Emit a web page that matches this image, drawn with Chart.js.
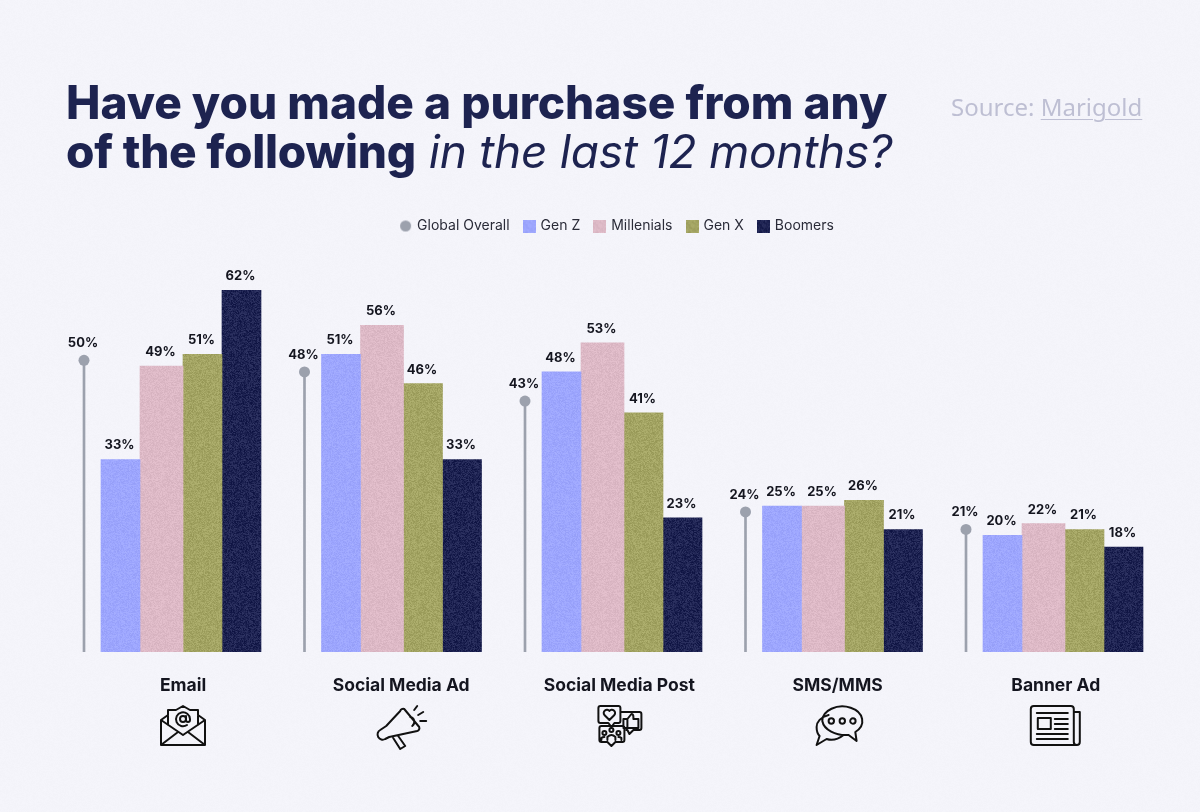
<!DOCTYPE html>
<html><head><meta charset="utf-8">
<script src="https://cdn.jsdelivr.net/npm/chart.js@4"></script>
<style>
html,body{margin:0;padding:0;background:#F4F4FA;width:1200px;height:812px;overflow:hidden}
#wrap{position:relative;width:1200px;height:812px}
canvas{position:absolute;left:0;top:0}
.t{position:absolute;left:66px;color:#1D2350;font-family:Inter,Lato,sans-serif;font-size:46px;white-space:nowrap;line-height:50px}
.t b{font-weight:800}
.t i{font-weight:400;font-style:italic;letter-spacing:-.28px}
#src{position:absolute;left:951px;top:90px;font:400 24px "Noto Sans",sans-serif;color:#BEBFD3;white-space:nowrap}
#src u{text-underline-offset:3px;text-decoration-thickness:1px}
</style></head><body>
<div id="wrap">
<canvas id="c" width="1200" height="812"></canvas>
<div class="t" style="top:77px"><b>Have you made a purchase from any</b></div>
<div class="t" style="top:126px"><b style="letter-spacing:-.25px">of the following</b> <i>in the last 12 months?</i></div>
<div id="src">Source: <u>Marigold</u></div>
</div>
<script>
const categories=["Email","Social Media Ad","Social Media Post","SMS/MMS","Banner Ad"];
const seriesNames=["Global Overall","Gen Z","Millenials","Gen X","Boomers"];
const globalOverall=[50,48,43,24,21];
const genZ=[33,51,48,25,20];
const millenials=[49,56,53,25,22];
const genX=[51,46,41,26,21];
const boomers=[62,33,23,21,18];

// texture (visual grain only, never used for values)
function grain(hex,amp){
  const n=128,cv=document.createElement('canvas');cv.width=cv.height=n;
  const g=cv.getContext('2d'),im=g.createImageData(n,n);
  const r=parseInt(hex.slice(1,3),16),gg=parseInt(hex.slice(3,5),16),b=parseInt(hex.slice(5,7),16);
  let s=12345;
  for(let i=0;i<n*n;i++){
    s=(s*1103515245+12345)&0x7fffffff;
    const d=(((s>>8)&255)/255-.5)*amp;
    im.data[i*4]=r+d;im.data[i*4+1]=gg+d;im.data[i*4+2]=b+d;im.data[i*4+3]=255;
  }
  g.putImageData(im,0,0);
  return document.getElementById('c').getContext('2d').createPattern(cv,'repeat');
}
const colGray='#9CA1AD';
const fills=[grain('#9DA6FF',16),grain('#DDB9C6',16),grain('#A3A463',26),grain('#1E2352',34)];
function swatch(draw){const cv=document.createElement('canvas');cv.width=cv.height=13;draw(cv.getContext('2d'));return cv;}
const markers=[
  swatch(g=>{g.fillStyle=colGray;g.beginPath();g.arc(6.5,6.5,5.5,0,7);g.fill();}),
  ...fills.map(f=>swatch(g=>{g.fillStyle=f;g.fillRect(0,0,13,13);}))
];

const PLOT_W=1200,BAND=220.5;
const pts=a=>a.map((y,x)=>({x,y}));
const hiddenX=c=>({type:'linear',display:false,bounds:'data',offset:false,min:(0-c)/BAND,max:(PLOT_W-c)/BAND});
const font="Inter, Lato, sans-serif";

const icons=[
 // email
 "M-22,-6V19H22V-6M-22,-6L-15,-11M22,-6L15,-11M-15,-1V-16H-7L0,-20L7,-16H15V-1M-22,-6L0,9L22,-6M-22,19L-5,6M22,19L5,6"+
 "M3,-7a3,3 0 1 0 -6,0a3,3 0 1 0 6,0M3,-10v4a2,2 0 0 0 4,0v-1a7,7 0 1 0 -3,6",
 // megaphone
 "M-1,-15L-15,0L-21,4a5,5 0 0 0 5,9L-12,11L16,5M-1,-15a3,3 0 0 1 4,-2L18,1a3,3 0 0 1 -2,4M-8,12L-1,23L4,20L-3,10"+
 "M13,-16L16,-20M17,-11L22,-14M19,-5H25M9,-9a5,5 0 0 1 2,9",
 // social post
 "M-21,-18a2,2 0 0 1 2,-2H-1a2,2 0 0 1 2,2V-5a2,2 0 0 1 -2,2H-5L-8,1L-11,-3H-19a2,2 0 0 1 -2,-2Z"+
 "M-10,-6L-15,-11a3,3 0 0 1 5,-4a3,3 0 0 1 5,4Z"+
 "M2,-14H20a2,2 0 0 1 2,2V2a2,2 0 0 1 -2,2H14L10,8L8,4H7M4,-7H8V2H4ZM8,-7L12,-12q2,0 2,3V-7H19V2H8"+
 "M-20,2a2,2 0 0 1 2,-2H3a2,2 0 0 1 2,2V14a2,2 0 0 1 -2,2H-4L-8,20L-12,16H-18a2,2 0 0 1 -2,-2Z"+
 "M-10,4a2,2 0 1 0 4,0a2,2 0 1 0 -4,0M-17,7a2,2 0 1 0 4,0a2,2 0 1 0 -4,0M-3,7a2,2 0 1 0 4,0a2,2 0 1 0 -4,0M-12,14V11q4,-4 8,0V14M-18,14V12q1,-1 3,-1M2,14V12q-1,-1 -3,-1",
 // sms
 "M-15.3,-5a20,14.5 0 1 1 33,11L19,15L11,9a24,16 0 0 1 -26.3,-14Z"+
 "M-9,-11C-17,-9 -21,-4 -21,1C-21,5 -20,8 -18,10L-21,19L-11,13C-5,15 1,13 6,9"+
 "M-9,-5a2.7,2.7 0 1 0 5.4,0a2.7,2.7 0 1 0 -5.4,0M2,-5a2.7,2.7 0 1 0 5.4,0a2.7,2.7 0 1 0 -5.4,0M12.6,-5a2.7,2.7 0 1 0 5.4,0a2.7,2.7 0 1 0 -5.4,0",
 // newspaper
 "M-25,-17a3,3 0 0 1 3,-3H15a3,3 0 0 1 3,3V16a3,3 0 0 0 3,3H-22a3,3 0 0 1 -3,-3ZM18,-14H24V16a3,3 0 0 1 -3,3"+
 "M-19,-13H12M-18,-8H-5V3H-18ZM-1,-7H12M-1,-2H12M-1,3H12M-19,8H12M-19,13H12"
];

const pageGrain=grain('#F4F4FA',3);
const paint={
  id:'paint',
  beforeDraw(ch){const x=ch.ctx;x.save();x.fillStyle=pageGrain;x.fillRect(0,0,1200,812);x.restore();},
  afterLayout(ch){ch.legend.left+=17.5;ch.legend.right+=17.5;},
  afterDraw(ch){
    const x=ch.ctx;x.save();x.textAlign='center';x.textBaseline='middle';x.fillStyle='#14151F';
    x.font="700 13px "+font;
    ch.data.datasets.forEach((d,i)=>{
      if(d.noLabel)return;
      const m=ch.getDatasetMeta(i);
      m.data.forEach((el,j)=>{
        const up=d.type==='line'?17:14;
        x.fillText(d.values[j]+'%',el.x-1,el.y-up);
      });
    });
    x.restore();
    x.save();x.strokeStyle='#111';x.lineWidth=2;x.lineJoin='round';x.lineCap='round';
    const s=ch.scales.xLabels;
    icons.forEach((p,i)=>{x.save();x.translate(s.getPixelForValue(i),726);x.stroke(new Path2D(p));x.restore();});
    x.restore();
  }
};
const bar=(name,vals,fill,w)=>({type:'bar',label:name,values:vals,data:pts(vals),backgroundColor:fill,xAxisID:'x'+name.replace(/ /g,''),grouped:false,barThickness:w,maxBarThickness:w,borderWidth:0});

new Chart(document.getElementById('c'),{
  data:{datasets:[
    {type:'line',label:seriesNames[0],values:globalOverall,data:pts(globalOverall),xAxisID:'xOverall',showLine:false,
     pointRadius:5.5,pointHoverRadius:5.5,pointBackgroundColor:colGray,pointBorderWidth:0,borderColor:colGray},
    {type:'bar',label:'stem',noLabel:true,values:globalOverall,data:pts(globalOverall),xAxisID:'xOverall',grouped:false,backgroundColor:colGray,barThickness:2,maxBarThickness:2},
    bar(seriesNames[1],genZ,fills[0],39),
    bar(seriesNames[2],millenials,fills[1],43),
    bar(seriesNames[3],genX,fills[2],39),
    bar(seriesNames[4],boomers,fills[3],39)
  ]},
  options:{
    responsive:false,animation:false,devicePixelRatio:1,
    layout:{autoPadding:false,padding:{top:204,bottom:100,left:0,right:0}},
    plugins:{
      tooltip:{enabled:false},
      legend:{position:'top',labels:{
        color:'#2A2B38',font:{family:font,size:14,weight:'400'},padding:15,boxWidth:9,boxHeight:13,pointStyleWidth:9,usePointStyle:true,
        generateLabels:()=>seriesNames.map((n,i)=>({text:n,pointStyle:markers[i],fontColor:'#2A2B38',lineWidth:0,strokeStyle:'transparent'}))
      }}
    },
    scales:{
      y:{display:false,min:0,max:70.1,bounds:'data'},
      xLabels:{type:'linear',position:'bottom',bounds:'data',offset:false,min:(0-183)/218.2,max:(1200-183)/218.2,
        grid:{display:false},border:{display:false},
        afterBuildTicks(s){s.ticks=categories.map((c,i)=>({value:i}));},
        afterFit(s){s.height=60;},
        ticks:{stepSize:1,includeBounds:false,autoSkip:false,maxRotation:0,padding:15,color:'#14151F',
          font:{family:font,size:17.5,weight:'700'},callback:v=>categories[v]}},
      xOverall:hiddenX(84),
      xGenZ:hiddenX(120.5),
      xMillenials:hiddenX(161.5),
      xGenX:hiddenX(202.5),
      xBoomers:hiddenX(241.5)
    }
  },
  plugins:[paint]
});
</script>
</body></html>
